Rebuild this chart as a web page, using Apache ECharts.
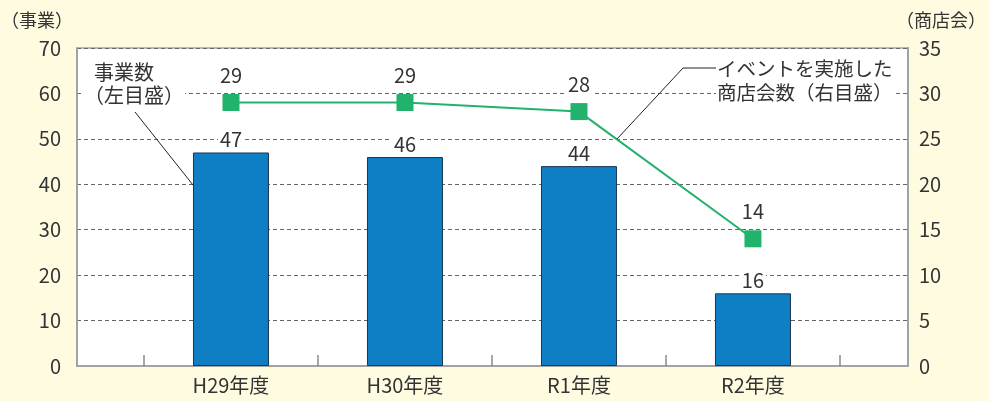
<!DOCTYPE html>
<html>
<head>
<meta charset="utf-8">
<script src="https://cdn.jsdelivr.net/npm/echarts@6/dist/echarts.min.js"></script>
<style>
  html, body { margin: 0; padding: 0; background: #fffbe1; }
  #chart { width: 989px; height: 401px; }
</style>
</head>
<body>
<div id="chart"></div>
<script>
// Fiscal years on the horizontal axis
const categories = ['H29年度', 'H30年度', 'R1年度', 'R2年度'];
// Number of projects (left scale)
const projectCounts = [47, 46, 44, 16];
// Number of shopping associations that held events (right scale)
const associationCounts = [29, 29, 28, 14];
// Left and right axis ranges
const leftTicks = { min: 0, max: 70, interval: 10 };
const rightTicks = { min: 0, max: 35, interval: 5 };

const FONT = '"Noto Sans CJK JP", "Noto Sans", sans-serif';
const TEXT = '#333';
const AXIS_GRAY = '#a3a3a3';

const chart = echarts.init(document.getElementById('chart'), null, { renderer: 'canvas' });

// category slot centres sit at 0..n-1; the frame shows a partial slot on each side
const xMin = -0.885, xMax = categories.length - 1 + 0.891;
const slotEdges = [];
for (let i = 0; i <= categories.length; i++) slotEdges.push(i - 0.5);

const whiteText = (text, left, top, size) => ({
  type: 'text', z: 60, left, top,
  style: {
    text, fill: TEXT, fontSize: size, fontFamily: FONT,
    backgroundColor: '#ffffff', padding: [0, 1]
  }
});

chart.setOption({
  backgroundColor: '#fffbe1',
  animation: false,
  textStyle: { fontFamily: FONT },
  grid: {
    left: 77, right: 81, top: 48, bottom: 35,
    show: true, backgroundColor: '#ffffff',
    borderColor: AXIS_GRAY, borderWidth: 1.5
  },
  xAxis: {
    type: 'value', min: xMin, max: xMax,
    splitLine: { show: false },
    axisLine: { show: true, onZero: false, lineStyle: { color: AXIS_GRAY, width: 2 } },
    axisTick: {
      show: true, inside: true, length: 11,
      customValues: slotEdges,
      lineStyle: { color: '#8a8a8a', width: 1.5 }
    },
    axisLabel: {
      customValues: categories.map((c, i) => i),
      formatter: v => categories[Math.round(v)] || '',
      color: TEXT, fontSize: 20, margin: 9, fontFamily: FONT
    }
  },
  yAxis: [
    {
      type: 'value', min: leftTicks.min, max: leftTicks.max, interval: leftTicks.interval,
      axisLine: { show: true, onZero: false, lineStyle: { color: AXIS_GRAY, width: 2 } },
      axisTick: { show: false },
      axisLabel: { color: TEXT, fontSize: 20, margin: 16, fontFamily: FONT },
      splitLine: { show: true, lineStyle: { color: '#666', type: [4, 3], width: 1 } }
    },
    {
      type: 'value', min: rightTicks.min, max: rightTicks.max, interval: rightTicks.interval,
      axisLine: { show: true, onZero: false, lineStyle: { color: AXIS_GRAY, width: 2 } },
      axisTick: { show: false },
      axisLabel: { color: TEXT, fontSize: 20, margin: 11, fontFamily: FONT },
      splitLine: { show: false }
    }
  ],
  series: [
    {
      name: '事業数',
      type: 'bar',
      yAxisIndex: 0,
      barWidth: 76,
      data: projectCounts.map((v, i) => [i, v]),
      itemStyle: { color: '#0e7fc4', borderColor: '#1d3550', borderWidth: 1 },
      label: {
        show: true, position: 'top', distance: 3,
        formatter: p => p.value[1],
        color: TEXT, fontSize: 20, fontFamily: FONT,
        backgroundColor: '#ffffff', padding: [0, 2]
      },
      z: 2
    },
    {
      name: 'イベントを実施した商店会数',
      type: 'line',
      yAxisIndex: 1,
      data: associationCounts.map((v, i) => [i, v]),
      symbol: 'rect', symbolSize: 17,
      itemStyle: { color: '#21b26b' },
      lineStyle: { color: '#21b26b', width: 2 },
      label: {
        show: true, position: 'top', distance: 9,
        formatter: p => p.value[1],
        color: TEXT, fontSize: 20, fontFamily: FONT,
        backgroundColor: '#ffffff', padding: [0, 2]
      },
      z: 3
    }
  ],
  graphic: [
    // axis unit captions
    {
      type: 'text', left: 1, top: 11,
      style: { text: '（事業）', fill: TEXT, fontSize: 18, fontFamily: FONT }
    },
    {
      type: 'text', left: 896, top: 11,
      style: { text: '（商店会）', fill: TEXT, fontSize: 18, fontFamily: FONT }
    },
    // callout for the bars
    {
      type: 'line', z: 50,
      shape: { x1: 135, y1: 112, x2: 193, y2: 185 },
      style: { stroke: '#222', lineWidth: 1 }
    },
    whiteText('事業数', 93, 62, 20),
    whiteText('（左目盛）', 83, 85, 20),
    // callout for the line
    {
      type: 'polyline', z: 50,
      shape: { points: [[716, 68], [683, 68], [617, 139]] },
      style: { stroke: '#222', lineWidth: 1, fill: null }
    },
    whiteText('イベントを実施した', 716, 59, 19.5),
    whiteText('商店会数（右目盛）', 716, 83, 19.5)
  ]
});
</script>
</body>
</html>
